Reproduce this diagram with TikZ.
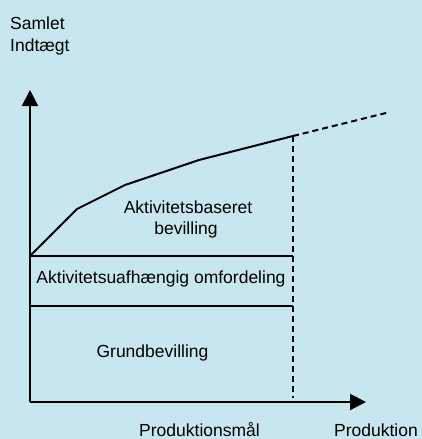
\documentclass[tikz,border=0pt]{standalone}
\usepackage{fontspec}
\setmainfont{Liberation Sans}
\usetikzlibrary{arrows.meta}
\definecolor{bgblue}{RGB}{200,230,238}
\tikzset{
  axis/.style={line width=2pt, -{Triangle[length=16pt,width=16pt]}},
  solidline/.style={line width=2pt},
  dashline/.style={line width=2pt, dash pattern=on 6pt off 4pt},
  lbl/.style={font=\fontsize{17.5}{21}\selectfont, inner sep=0pt, anchor=base, text=black},
}
\begin{document}
\begin{tikzpicture}[x=1pt,y=-1pt]
  \fill[bgblue] (0,0) rectangle (422,439);
  \useasboundingbox (0,0) rectangle (422,439);

  % key points of the diagram
  \coordinate (O) at (30,402);
  \coordinate (ytop) at (30,90);
  \coordinate (xend) at (366,402);
  \coordinate (c0) at (30,256);
  \coordinate (c1) at (77,209);
  \coordinate (c2) at (125,185);
  \coordinate (c3) at (199,160);
  \coordinate (c4) at (293,136);
  \coordinate (c5) at (390,112);
  \coordinate (m1) at (293,256);
  \coordinate (l0) at (30,306);
  \coordinate (m2) at (293,306);
  \coordinate (mb) at (293,398);

  % axes
  \draw[axis] (O) -- (ytop);
  \draw[axis] (O) -- (xend);

  % income curve and its extension
  \draw[solidline, line join=round] (c0) -- (c1) -- (c2) -- (c3) -- (c4);
  \draw[dashline] (c4) -- (c5);

  % band boundaries
  \draw[solidline] (c0) -- (m1);
  \draw[solidline] (l0) -- (m2);
  \draw[dashline] (c4) -- (mb);

  % labels
  \node[lbl, anchor=base west] (ylab1) at (10,29) {Samlet};
  \node[lbl, anchor=base west] (ylab2) at (10,51) {Indtægt};
  \node[lbl] (akt1) at (188,213) {Aktivitetsbaseret};
  \node[lbl] (akt2) at (186,234) {bevilling};
  \node[lbl] (omf) at (161,283) {Aktivitetsuafhængig omfordeling};
  \node[lbl] (grund) at (152.5,357) {Grundbevilling};
  \node[lbl] (pmaal) at (199.5,436) {Produktionsmål};
  \node[lbl] (prod) at (376,436) {Produktion};
\end{tikzpicture}
\end{document}
